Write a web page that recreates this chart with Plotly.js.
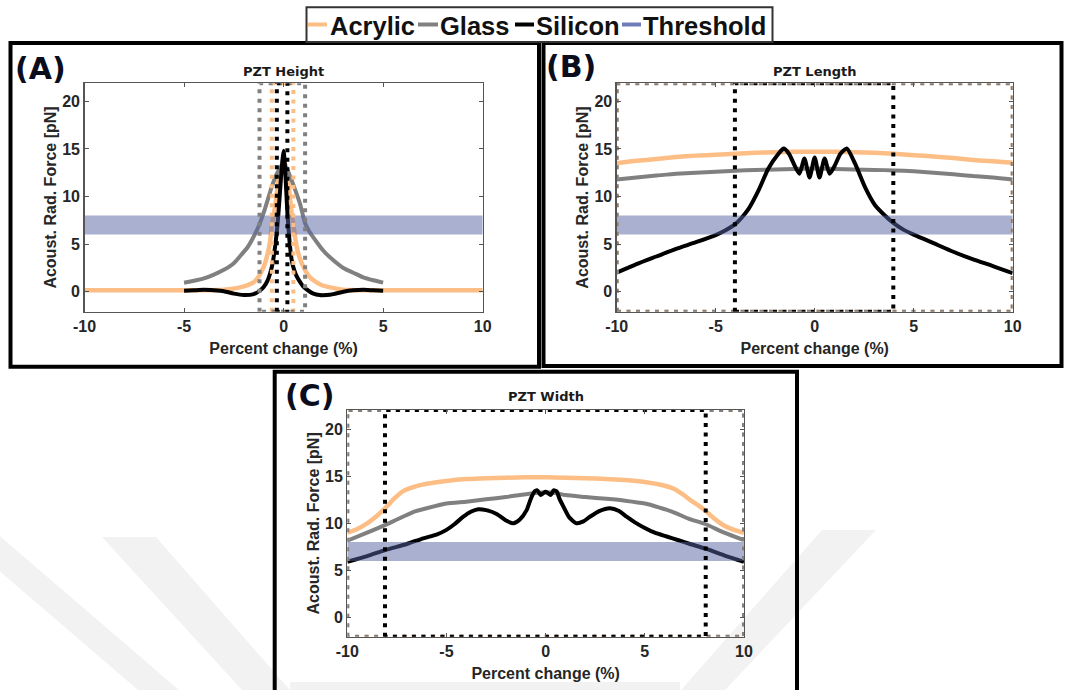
<!DOCTYPE html>
<html><head><meta charset="utf-8">
<script src="https://cdn.plot.ly/plotly-3.0.1.min.js"></script>
<style>html,body{margin:0;padding:0;background:#fff;} #chart{width:1065px;height:690px;}</style>
</head><body><div id="chart"></div>
<script>
// ---------- DATA ----------
const seriesNames = ['Acrylic', 'Glass', 'Silicon', 'Threshold'];
const panelLetters = ['(A)', '(B)', '(C)'];
const panelTitles = ['PZT Height', 'PZT Length', 'PZT Width'];
const xTickVals = [-10, -5, 0, 5, 10];
const xTickText = ['-10', '-5', '0', '5', '10'];
const yTickVals = [0, 5, 10, 15, 20];
const yTickText = ['0', '5', '10', '15', '20'];
const xAxisTitle = 'Percent change (%)';
const yAxisTitle = 'Acoust. Rad. Force [pN]';
const thresholdBand = [6, 8];

// (A) PZT Height
const heightAcrylicX = [-10, -7, -5, -4, -3, -2.3, -1.8, -1.5, -1.25, -1.0, -0.8, -0.68, -0.59, -0.43, -0.26, -0.12, 0, 0.12, 0.26, 0.41, 0.49, 0.66, 0.8, 1.0, 1.25, 1.5, 1.9, 2.34, 3, 4, 5, 7, 10];
const heightAcrylicY = [0.15, 0.15, 0.15, 0.15, 0.2, 0.4, 0.7, 1.0, 1.6, 2.6, 4.0, 5.3, 7.0, 8.9, 11.7, 13.2, 13.6, 13.2, 11.0, 8.2, 7.0, 4.7, 3.6, 2.6, 1.7, 1.2, 0.7, 0.45, 0.2, 0.15, 0.15, 0.15, 0.15];
const heightGlassX = [-5, -4.5, -4, -3.5, -3, -2.5, -2.2, -1.8, -1.5, -1.21, -1.0, -0.85, -0.6, -0.34, -0.15, 0, 0.15, 0.33, 0.6, 0.83, 1.08, 1.3, 1.67, 2.0, 2.5, 3.0, 3.5, 4.0, 4.5, 5];
const heightGlassY = [0.95, 1.15, 1.4, 1.8, 2.3, 3.0, 3.7, 4.7, 5.8, 7.1, 8.3, 9.3, 11.0, 12.4, 13.1, 13.3, 13.0, 12.1, 10.6, 9.2, 7.2, 6.3, 5.2, 4.3, 3.3, 2.5, 2.0, 1.5, 1.2, 0.95];
const heightSiliconX = [-5, -4.5, -4, -3.5, -3, -2.5, -2.0, -1.5, -1.2, -1.0, -0.8, -0.68, -0.55, -0.43, -0.34, -0.26, -0.14, -0.06, 0, 0.06, 0.13, 0.19, 0.24, 0.32, 0.41, 0.53, 0.66, 0.83, 1.0, 1.25, 1.5, 1.8, 2.17, 2.5, 3.0, 3.5, 4.0, 4.5, 5];
const heightSiliconY = [0.1, 0.15, 0.2, 0.15, 0.05, -0.2, -0.35, -0.25, 0.1, 0.5, 1.2, 1.9, 3.0, 4.7, 6.3, 8.2, 11.7, 13.8, 14.8, 13.5, 10.7, 8.3, 6.8, 4.8, 3.3, 2.3, 1.6, 1.0, 0.5, 0.1, -0.2, -0.35, -0.35, -0.25, 0.0, 0.15, 0.2, 0.15, 0.1];
const heightAcrylicCross = [-0.59, 0.49];
const heightGlassCross = [-1.21, 1.08];
const heightSiliconCross = [-0.34, 0.19];

// (B) PZT Length
const lengthAcrylicX = [-10, -9, -8, -7, -6, -5, -4, -3, -2, -1, 0, 1, 2, 3, 4, 5, 6, 7, 8, 9, 10];
const lengthAcrylicY = [13.5, 13.75, 13.95, 14.15, 14.3, 14.4, 14.5, 14.6, 14.65, 14.7, 14.7, 14.7, 14.65, 14.6, 14.5, 14.35, 14.2, 14.05, 13.85, 13.7, 13.55];
const lengthGlassX = [-10, -9, -8, -7, -6, -5, -4, -3, -2, -1, 0, 1, 2, 3, 4, 5, 6, 7, 8, 9, 10];
const lengthGlassY = [11.8, 12.0, 12.2, 12.4, 12.5, 12.6, 12.7, 12.8, 12.85, 12.9, 12.95, 12.9, 12.85, 12.8, 12.75, 12.65, 12.5, 12.35, 12.15, 12.0, 11.8];
const lengthSiliconX = [-10, -9, -8, -7, -6, -5, -4.5, -4.03, -3.7, -3.34, -2.83, -2.34, -1.83, -1.57, -1.3, -1.0, -0.77, -0.52, -0.26, 0, 0.24, 0.5, 0.75, 1.0, 1.3, 1.62, 2.04, 2.54, 3.05, 3.53, 3.97, 4.5, 5, 6, 7, 8, 9, 10];
const lengthSiliconY = [2.0, 2.9, 3.7, 4.5, 5.2, 5.95, 6.45, 7.07, 7.75, 8.7, 10.67, 12.94, 14.5, 15.04, 14.5, 13.2, 12.4, 14.0, 12.0, 14.1, 12.0, 14.0, 12.4, 13.2, 14.5, 15.05, 13.46, 11.0, 9.09, 8.04, 7.24, 6.5, 6.0, 5.1, 4.2, 3.4, 2.7, 1.95];
const lengthAcrylicCross = [-10, 10];
const lengthGlassCross = [-10, 10];
const lengthSiliconCross = [-4.03, 3.97];

// (C) PZT Width
const widthAcrylicX = [-10, -9.5, -9, -8.5, -8.1, -7.6, -7.2, -6.6, -6, -5, -4, -3, -2, -1, 0, 1, 2, 3, 4, 5, 5.8, 6.43, 6.9, 7.28, 7.7, 8.07, 8.5, 8.96, 9.5, 10];
const widthAcrylicY = [9.0, 9.4, 10.0, 10.8, 11.6, 12.7, 13.4, 13.9, 14.2, 14.5, 14.7, 14.8, 14.85, 14.9, 14.9, 14.85, 14.8, 14.7, 14.6, 14.4, 14.1, 13.7, 13.1, 12.5, 11.9, 11.3, 10.5, 9.8, 9.3, 9.0];
const widthGlassX = [-10, -9, -8.1, -7.5, -6.68, -6, -5, -4, -3, -2, -1, 0, 0.55, 1, 2, 3.07, 4, 5, 5.7, 6.43, 7.2, 8.07, 9, 10];
const widthGlassY = [8.15, 9.0, 9.8, 10.4, 11.2, 11.6, 12.1, 12.3, 12.55, 12.8, 13.1, 13.3, 13.2, 13.0, 12.8, 12.6, 12.4, 12.1, 11.7, 11.2, 10.5, 9.9, 9.0, 8.2];
const widthSiliconX = [-10, -9, -8.1, -7, -6.17, -5.5, -5, -4.6, -4.15, -3.8, -3.4, -3.0, -2.47, -2.0, -1.63, -1.3, -0.96, -0.75, -0.55, -0.42, -0.25, -0.12, 0, 0.12, 0.25, 0.4, 0.55, 0.7, 0.89, 1.2, 1.56, 1.9, 2.23, 2.7, 3.24, 3.7, 4.08, 4.5, 5, 5.5, 6.1, 6.7, 7.28, 8.07, 9, 10];
const widthSiliconY = [5.9, 6.5, 7.15, 7.8, 8.4, 8.8, 9.3, 9.9, 10.7, 11.2, 11.5, 11.4, 11.0, 10.3, 10.0, 10.4, 11.4, 12.6, 13.4, 13.5, 13.0, 13.2, 13.35, 13.2, 13.0, 13.5, 13.4, 12.6, 11.8, 10.6, 10.0, 10.2, 10.7, 11.3, 11.6, 11.3, 10.7, 10.1, 9.5, 9.0, 8.6, 8.2, 7.8, 7.3, 6.6, 5.9];
const widthAcrylicCross = [-10, 10];
const widthGlassCross = [-10, 10];
const widthSiliconCross = [-8.1, 8.07];

// ---------- STYLE / LAYOUT ----------
const W = 1065, H = 690;
const colors = ['#fdbe85', '#808080', '#000000', 'rgb(112,124,186)'];
const bandFill = 'rgba(85,97,161,0.5)';
const xRange = [-10, 10];
const yRanges = [[-2.1, 21.9], [-2.1, 21.9], [-2.06, 22.05]];
// plot areas in pixels [left, right, top, bottom]
const plotBoxes = [[84.5, 482.7, 83.3, 311.7], [616.7, 1012.7, 83.3, 311.7], [347.3, 744, 410, 636.7]];
const px = v => v / W;
const py = v => 1 - v / H;
const ARIAL = 'Liberation Sans, Arial, sans-serif';

const panels = [
  {ax: ['x', 'y'], cur: [heightAcrylicX, heightAcrylicY, heightGlassX, heightGlassY, heightSiliconX, heightSiliconY],
   cross: [heightAcrylicCross, heightGlassCross, heightSiliconCross]},
  {ax: ['x2', 'y2'], cur: [lengthAcrylicX, lengthAcrylicY, lengthGlassX, lengthGlassY, lengthSiliconX, lengthSiliconY],
   cross: [lengthAcrylicCross, lengthGlassCross, lengthSiliconCross]},
  {ax: ['x3', 'y3'], cur: [widthAcrylicX, widthAcrylicY, widthGlassX, widthGlassY, widthSiliconX, widthSiliconY],
   cross: [widthAcrylicCross, widthGlassCross, widthSiliconCross]}
];

const lineWidths = [4.5, 4, 4];
const traces = [];
panels.forEach((p, i) => {
  for (let s = 0; s < 3; s++) {
    traces.push({
      type: 'scatter', mode: 'lines', name: seriesNames[s], showlegend: false,
      x: p.cur[2 * s], y: p.cur[2 * s + 1], xaxis: p.ax[0], yaxis: p.ax[1],
      line: {color: colors[s], width: lineWidths[s], shape: 'spline', smoothing: 0.6},
      hoverinfo: 'skip'
    });
  }
  traces.push({
    type: 'scatter', mode: 'lines', name: seriesNames[3], showlegend: false,
    x: [xRange[0], xRange[1], xRange[1], xRange[0], xRange[0]],
    y: [thresholdBand[0], thresholdBand[0], thresholdBand[1], thresholdBand[1], thresholdBand[0]],
    xaxis: p.ax[0], yaxis: p.ax[1], fill: 'toself', fillcolor: bandFill,
    line: {width: 0, color: 'rgba(0,0,0,0)'}, hoverinfo: 'skip'
  });
  const yr = yRanges[i];
  for (let s = 0; s < 3; s++) {
    const c = p.cross[s];
    traces.push({
      type: 'scatter', mode: 'lines', showlegend: false, name: seriesNames[s] + ' range',
      x: [c[0], c[0], c[1], c[1], c[0]], y: [yr[0], yr[1], yr[1], yr[0], yr[0]],
      xaxis: p.ax[0], yaxis: p.ax[1],
      line: {color: colors[s], width: 4, dash: '4px,5.5px'}, hoverinfo: 'skip'
    });
  }
});

const tickFont = {family: ARIAL, size: 16, weight: 700, color: '#262626'};
const titleFont = {family: ARIAL, size: 16, weight: 700, color: '#262626'};
function xAx(i) {
  const b = plotBoxes[i];
  return {domain: [px(b[0]), px(b[1])], anchor: 'y' + (i ? i + 1 : ''), range: xRange,
    tickmode: 'array', tickvals: xTickVals, ticktext: xTickText,
    ticks: 'inside', ticklen: 4, tickcolor: '#555', showline: true, mirror: 'ticks', linecolor: '#555', linewidth: 1.3,
    showgrid: false, zeroline: false, tickfont: tickFont, title: {text: xAxisTitle, font: titleFont, standoff: 8}, fixedrange: true};
}
function yAx(i) {
  const b = plotBoxes[i];
  return {domain: [py(b[3]), py(b[2])], anchor: 'x' + (i ? i + 1 : ''), range: yRanges[i],
    tickmode: 'array', tickvals: yTickVals, ticktext: yTickText,
    ticks: 'inside', ticklen: 4, tickcolor: '#555', showline: true, mirror: 'ticks', linecolor: '#555', linewidth: 1.3,
    showgrid: false, zeroline: false, tickfont: tickFont, title: {text: yAxisTitle, font: titleFont, standoff: 1}, fixedrange: true};
}

const annotations = [];
const letterPos = [[40, 68.5], [571, 66.5], [309, 395]];
const titleY = [71.7, 71.7, 396.5];
panels.forEach((p, i) => {
  const b = plotBoxes[i];
  annotations.push({xref: 'paper', yref: 'paper', x: px(letterPos[i][0]), y: py(letterPos[i][1]), text: panelLetters[i],
    showarrow: false, xanchor: 'center', yanchor: 'middle',
    font: {family: 'DejaVu Sans', size: 30, weight: 700, color: '#0b0d1c'}});
  annotations.push({xref: 'paper', yref: 'paper', x: px((b[0] + b[1]) / 2), y: py(titleY[i]), text: panelTitles[i],
    showarrow: false, xanchor: 'center', yanchor: 'middle',
    font: {family: 'DejaVu Sans', size: 13, weight: 700, color: '#1a1a1a'}});
});

// manual legend
const legLines = [[308, 327], [418, 438], [515, 534], [622, 641]];
const legText = [328, 437.5, 534, 640.5];
const legY = 24.5;
const shapes = [];
// watermark stripes
const wm = '#f2f2f2';
const wmPaths = [
  [[-60, 520], [-19, 520], [179, 690], [138, 690]],
  [[102, 537], [156, 537], [290, 690], [242, 690]],
  [[822, 530], [876, 530], [725, 690], [681, 690]],
  [[290, 682], [680, 682], [680, 690], [290, 690]]
];
wmPaths.forEach(pts => {
  const d = 'M' + pts.map(q => px(q[0]) + ',' + py(q[1])).join('L') + 'Z';
  shapes.push({type: 'path', xref: 'paper', yref: 'paper', path: d, fillcolor: wm, line: {width: 0}, layer: 'below'});
});
// panel frames
const frames = [[10.5, 539, 43, 366.7], [543.5, 1061.5, 43, 366], [274.7, 797, 371.7, 720]];
frames.forEach(f => shapes.push({type: 'rect', xref: 'paper', yref: 'paper', x0: px(f[0]), x1: px(f[1]), y0: py(f[3]), y1: py(f[2]),
  line: {color: '#000', width: 4}, fillcolor: 'rgba(0,0,0,0)', layer: 'above'}));
// legend box
shapes.push({type: 'rect', xref: 'paper', yref: 'paper', x0: px(306.5), x1: px(772.5), y0: py(42), y1: py(7.3),
  line: {color: '#333', width: 2}, fillcolor: '#fff', layer: 'above'});
seriesNames.forEach((n, k) => {
  shapes.push({type: 'line', xref: 'paper', yref: 'paper', x0: px(legLines[k][0]), x1: px(legLines[k][1]), y0: py(legY), y1: py(legY),
    line: {color: colors[k], width: 4}, layer: 'above'});
  annotations.push({xref: 'paper', yref: 'paper', x: px(legText[k]), y: py(25.8), text: n, showarrow: false,
    xanchor: 'left', yanchor: 'middle', font: {family: ARIAL, size: 25.5, weight: 700, color: '#111'}});
});

const layout = {
  width: W, height: H, margin: {l: 0, r: 0, t: 0, b: 0},
  paper_bgcolor: '#fff', plot_bgcolor: 'rgba(0,0,0,0)', showlegend: false,
  xaxis: xAx(0), yaxis: yAx(0), xaxis2: xAx(1), yaxis2: yAx(1), xaxis3: xAx(2), yaxis3: yAx(2),
  annotations: annotations, shapes: shapes
};
Plotly.newPlot('chart', traces, layout, {staticPlot: true, displayModeBar: false});
</script></body></html>
